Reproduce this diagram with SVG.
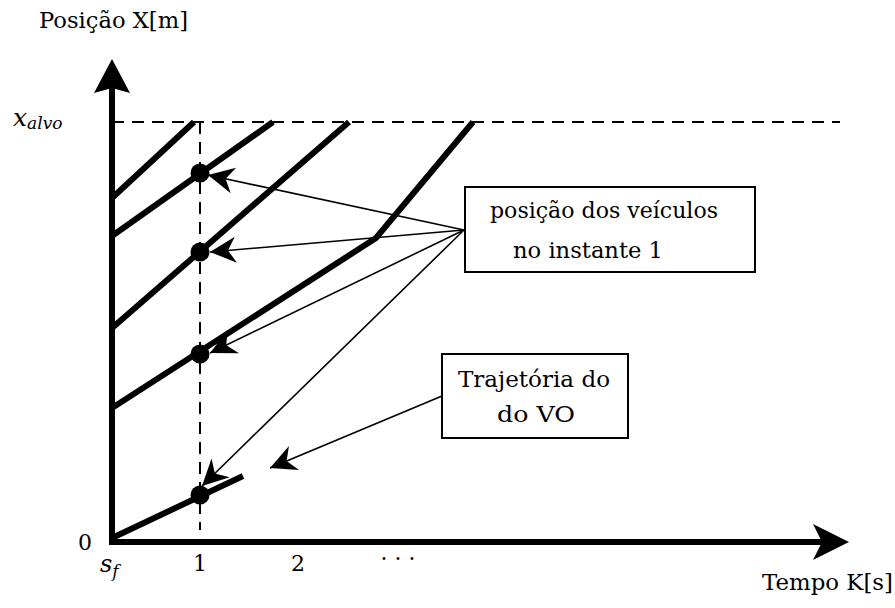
<svg xmlns="http://www.w3.org/2000/svg" width="895" height="608" viewBox="0 0 895 608">
<style>
.thick{stroke:#000;stroke-width:6;fill:none;stroke-linecap:butt}
.dash{stroke:#000;stroke-width:2;fill:none;stroke-dasharray:12 8}
.thin{stroke:#000;stroke-width:1.6;fill:none;marker-end:url(#ah)}
.box{fill:#fff;stroke:#000;stroke-width:2}
</style>
<defs>
<marker id="ah" markerUnits="userSpaceOnUse" viewBox="-30 -15 32 30" markerWidth="32" markerHeight="30" refX="0" refY="0" orient="auto" overflow="visible">
<path d="M0,0 L-26,-13 L-18,0 L-26,13 Z" fill="#000"/>
</marker>
</defs>
<rect width="895" height="608" fill="#fff"/>
<g id="axes">
<line class="dash" x1="112" y1="122" x2="840" y2="122"/>
<line class="dash" x1="200" y1="122" x2="200" y2="530"/>
<line class="thick" x1="112" y1="545" x2="112" y2="85"/>
<polygon points="112,59 130,93 112,88 94,93" fill="#000"/>
<line class="thick" x1="109" y1="542" x2="825" y2="542"/>
<polygon points="849,542 813,524 822,542 813,560" fill="#000"/>
</g>
<g id="trajectories">
<line class="thick" x1="112" y1="198" x2="194" y2="122"/>
<line class="thick" x1="112" y1="236" x2="273" y2="122"/>
<line class="thick" x1="112" y1="328" x2="349" y2="122"/>
<polyline class="thick" points="112,408 376,238 473,122"/>
<line class="thick" x1="112" y1="538" x2="243" y2="476"/>
<circle cx="200" cy="173" r="9.5"/>
<circle cx="200" cy="252" r="9.5"/>
<circle cx="200" cy="354" r="9.5"/>
<circle cx="200" cy="495" r="9.5"/>
</g>
<g id="connectors">
<line class="thin" x1="464" y1="230" x2="208" y2="175"/>
<line class="thin" x1="464" y1="230" x2="210" y2="252"/>
<line class="thin" x1="464" y1="230" x2="210" y2="353"/>
<line class="thin" x1="464" y1="230" x2="202" y2="486"/>
<line class="thin" x1="442" y1="396" x2="270" y2="468"/>
</g>
<g font-family="'DejaVu Serif', 'Liberation Serif', serif" font-size="22" fill="#000">
<g id="box-posicao">
<rect class="box" x="465" y="187" width="290" height="85"/>
<text x="490" y="218" textLength="228" lengthAdjust="spacingAndGlyphs">posição dos veículos</text>
<text x="513" y="258" textLength="150" lengthAdjust="spacingAndGlyphs">no instante 1</text>
</g>
<g id="box-trajetoria">
<rect class="box" x="442" y="354" width="186" height="84"/>
<text x="458" y="387" textLength="152" lengthAdjust="spacingAndGlyphs">Trajetória do</text>
<text x="497" y="422" textLength="78" lengthAdjust="spacingAndGlyphs">do VO</text>
</g>
<g id="labels">
<text x="39" y="28" textLength="149" lengthAdjust="spacingAndGlyphs">Posição X[m]</text>
<text x="762" y="590" textLength="131" lengthAdjust="spacingAndGlyphs">Tempo K[s]</text>
<text x="13" y="126" font-size="25" font-style="italic">x<tspan font-size="17" dy="3">alvo</tspan></text>
<text x="78" y="550">0</text>
<text x="100" y="572" font-size="24" font-style="italic">s<tspan font-size="17" dy="5">f</tspan></text>
<text x="200" y="571" text-anchor="middle">1</text>
<text x="298" y="571" text-anchor="middle">2</text>
<text x="398" y="566" text-anchor="middle">· · ·</text>
</g>
</g>
</svg>
